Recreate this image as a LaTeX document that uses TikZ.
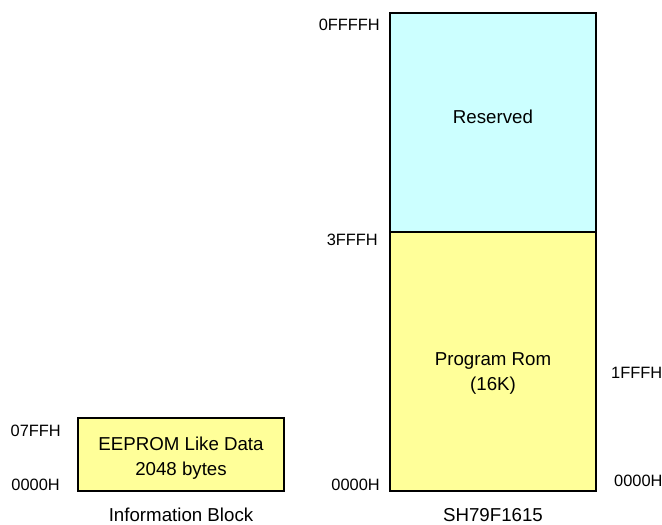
\documentclass[tikz,border=0pt]{standalone}
\usepackage{fontspec}
\setmainfont{Liberation Sans}
\usetikzlibrary{positioning}
\definecolor{romyellow}{RGB}{255,255,153}
\definecolor{rescyan}{RGB}{204,255,255}
\tikzset{
  mem/.style={draw, line width=1.3pt, minimum width=206pt, inner sep=0pt, outer sep=0pt},
  memtext/.style={inner sep=0pt, align=center, font=\fontsize{18.7}{25}\selectfont},
  addr/.style={inner sep=0pt, font=\fontsize{16.4}{18}\selectfont},
  caption/.style={inner sep=0pt, font=\fontsize{18.7}{22}\selectfont}
}
\begin{document}
\begin{tikzpicture}[x=1pt,y=-1pt]
    \useasboundingbox (0,0) rectangle (662,525);
    % flash map
    \node[mem,fill=rescyan,minimum height=219pt,
          label={[memtext,yshift=6pt]center:Reserved}](res) at (493,122.5){};
    \node[mem,fill=romyellow,minimum height=259pt,node distance=0pt,
          label={[memtext,yshift=-12pt]center:Program Rom\\(16K)}](prog)[below =of res]{};
    \node[caption,node distance=17pt](chip)[below =of prog]{SH79F1615};
    \node[addr](top)[below left =6pt and 10pt of res.north west]{0FFFFH};
    \node[addr](mid)[below left =2pt and 12pt of res.south west]{3FFFH};
    \node[addr](low)[left =10pt of prog.south west, anchor=south east]{0000H};
    \node[addr](half)[right =15pt of prog.east, yshift=-11pt]{1FFFH};
    \node[addr](lowr)[above right =4pt and 18pt of prog.south east]{0000H};
    % information block
    \node[mem,fill=romyellow,minimum height=73pt,
          label={[memtext,yshift=-4pt]center:EEPROM Like Data\\2048 bytes}](eep) at (181,454.5){};
    \node[caption,node distance=17pt](info)[below =of eep]{Information Block};
    \node[addr](etop)[below left =7pt and 17pt of eep.north west]{07FFH};
    \node[addr](elow)[left =18pt of eep.south west, anchor=south east]{0000H};
\end{tikzpicture}
\end{document}
